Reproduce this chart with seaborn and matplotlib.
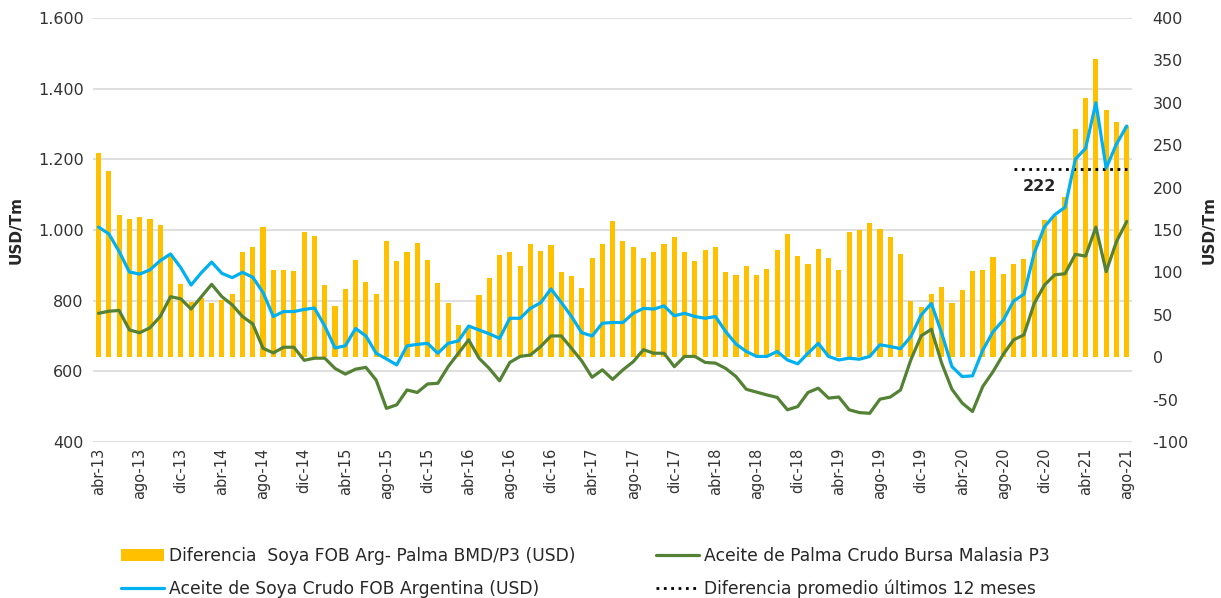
import numpy as np
import pandas as pd
import matplotlib
matplotlib.use("Agg")
import matplotlib.pyplot as plt
from matplotlib.ticker import FuncFormatter, MultipleLocator
from matplotlib.lines import Line2D
from matplotlib.patches import Patch
import seaborn as sns

sns.set_theme(style="white")
plt.rcParams["font.family"] = ["DejaVu Sans"]
plt.rcParams["axes.unicode_minus"] = False

# Monthly series, abr-13 .. ago-21
tick_labels = [
    "abr-13", "ago-13", "dic-13", "abr-14", "ago-14", "dic-14", "abr-15",
    "ago-15", "dic-15", "abr-16", "ago-16", "dic-16", "abr-17", "ago-17",
    "dic-17", "abr-18", "ago-18", "dic-18", "abr-19", "ago-19", "dic-19",
    "abr-20", "ago-20", "dic-20", "abr-21", "ago-21",
]

# Spread soybean FOB Arg - palm BMD/P3 (USD/Tm, right axis)
diferencia = [
    241, 219, 168, 163, 165, 163, 156, 120, 86, 65, 70, 64, 67, 75, 124, 130,
    154, 103, 103, 101, 148, 143, 85, 60, 80, 115, 89, 75, 137, 113, 124, 135,
    114, 88, 64, 38, 36, 73, 93, 120, 124, 108, 133, 125, 132, 100, 96, 82,
    117, 133, 160, 137, 130, 117, 124, 133, 142, 124, 113, 126, 130, 100, 97,
    108, 97, 104, 126, 145, 119, 110, 128, 117, 103, 148, 150, 158, 151, 142,
    122, 66, 59, 75, 83, 64, 79, 102, 103, 118, 98, 110, 116, 138, 162, 166,
    189, 269, 306, 352, 292, 277, 273,
]

# Crude soybean oil FOB Argentina (USD/Tm, left axis)
soya = [
    1008, 989, 939, 881, 875, 887, 913, 932, 893, 844, 879, 909, 877, 865, 880,
    866, 823, 755, 769, 769, 775, 779, 728, 666, 672, 721, 700, 651, 635, 618,
    672, 676, 679, 651, 679, 686, 728, 717, 706, 693, 750, 750, 778, 794, 833,
    795, 755, 709, 700, 736, 738, 738, 764, 778, 776, 785, 757, 764, 755, 750,
    755, 712, 677, 656, 642, 642, 656, 632, 621, 651, 679, 642, 632, 637, 634,
    642, 675, 670, 664, 698, 759, 792, 708, 613, 585, 587, 660, 712, 745, 799,
    818, 934, 1009, 1043, 1064, 1200, 1231, 1360, 1175, 1243, 1294,
]

# Crude palm oil Bursa Malaysia P3 (USD/Tm, left axis)
palma = [
    764, 770, 772, 717, 709, 723, 755, 811, 805, 776, 811, 846, 811, 788, 755,
    734, 665, 652, 668, 668, 631, 637, 637, 608, 592, 606, 611, 575, 495, 505,
    547, 540, 564, 566, 613, 651, 689, 637, 608, 573, 625, 642, 646, 670, 700,
    700, 665, 629, 583, 604, 577, 604, 627, 661, 651, 651, 613, 642, 642, 625,
    623, 608, 585, 549, 541, 533, 526, 491, 500, 540, 552, 524, 527, 491, 483,
    481, 521, 527, 547, 632, 700, 719, 623, 549, 510, 486, 557, 599, 648, 689,
    703, 792, 844, 873, 876, 931, 926, 1008, 882, 967, 1024,
]

promedio_12m = 222
ventana = 12

C_BAR = "#FFC000"
C_SOY = "#00B0F0"
C_PALM = "#548235"
C_GRID = "#D9D9D9"

n = len(soya)
mes = np.arange(n)
df = pd.DataFrame({"mes": mes, "diferencia": diferencia,
                   "soya": soya, "palma": palma})

fig = plt.figure(figsize=(12.21, 5.98), dpi=100)
ax_grid = fig.add_axes([0.0765, 0.261, 0.8505, 0.709])
ax_bar = ax_grid.twinx()
ax_line = ax_grid.twinx()

# Bars on the secondary (right) scale
sns.barplot(data=df, x="mes", y="diferencia", ax=ax_bar, color=C_BAR,
            saturation=1, width=0.5, errorbar=None, linewidth=0)

# Price lines on the primary (left) scale
sns.lineplot(data=df, x="mes", y="soya", ax=ax_line, color=C_SOY, linewidth=2.3)
sns.lineplot(data=df, x="mes", y="palma", ax=ax_line, color=C_PALM, linewidth=2.3)

# 12-month average spread
x_avg = mes[-ventana:]
ax_bar.plot([x_avg[0], x_avg[-1]], [promedio_12m, promedio_12m],
            color="black", linestyle=":", linewidth=2.0, zorder=5)
ax_bar.annotate(f"{promedio_12m}", xy=(x_avg[0] + 2.5, promedio_12m),
                xytext=(0, -7), textcoords="offset points",
                ha="center", va="top", fontsize=11.5, fontweight="bold")

# Left axis
ax_grid.set_ylim(400, 1600)
ax_grid.yaxis.set_major_locator(MultipleLocator(200))
ax_grid.yaxis.set_major_formatter(
    FuncFormatter(lambda v, p: f"{int(v):,}".replace(",", ".")))
ax_grid.grid(axis="y", color=C_GRID, linewidth=1.2)
ax_grid.grid(axis="x", visible=False)
ax_grid.set_ylabel("USD/Tm", fontsize=11, fontweight="bold", labelpad=10)

# Right axis
ax_bar.set_ylim(-100, 400)
ax_bar.yaxis.set_major_locator(MultipleLocator(50))
ax_bar.yaxis.set_major_formatter(FuncFormatter(lambda v, p: f"{int(v)}"))
ax_bar.set_ylabel("USD/Tm", fontsize=11, fontweight="bold", labelpad=9)
ax_bar.grid(False)

ax_line.set_ylim(400, 1600)
ax_line.set_yticks([])
ax_line.set_ylabel("")
ax_line.grid(False)

for a in (ax_grid, ax_bar, ax_line):
    for s in a.spines.values():
        s.set_visible(False)
    a.tick_params(length=0, labelsize=11.5, colors="#333333")
    a.set_xlabel("")

ax_grid.tick_params(axis="y", pad=7)
ax_bar.tick_params(axis="y", pad=15)

ax_grid.set_xlim(-0.5, n - 0.5)
ax_grid.set_xticks(mes[::4])
ax_grid.set_xticklabels(tick_labels, rotation=90, fontsize=10.5)
ax_grid.tick_params(axis="x", pad=4)

handles = [
    Patch(facecolor=C_BAR, edgecolor="none"),
    Line2D([], [], color=C_SOY, linewidth=2.3),
    Line2D([], [], color=C_PALM, linewidth=2.3),
    Line2D([], [], color="black", linestyle=":", linewidth=2.0),
]
labels = [
    "Diferencia  Soya FOB Arg- Palma BMD/P3 (USD)",
    "Aceite de Soya Crudo FOB Argentina (USD)",
    "Aceite de Palma Crudo Bursa Malasia P3",
    "Diferencia promedio últimos 12 meses",
]
fig.legend(handles, labels, ncol=2, loc="upper left",
           bbox_to_anchor=(121 / 1221, 1 - 547 / 598), frameon=False,
           fontsize=12.3, handlelength=2.5, handleheight=0.7,
           handletextpad=0.3, columnspacing=4.75, labelspacing=0.85,
           borderpad=0, borderaxespad=0)

fig.savefig("out.png", dpi=100)
